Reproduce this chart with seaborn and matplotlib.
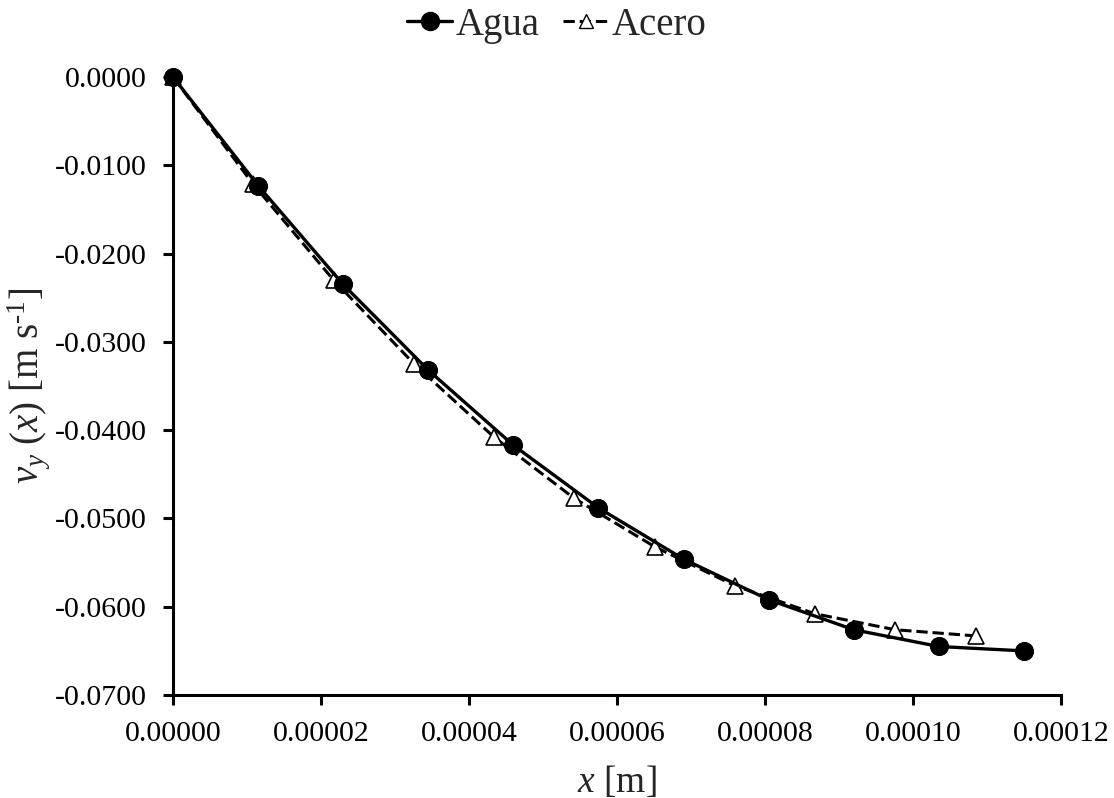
import matplotlib
matplotlib.use("Agg")
import matplotlib.pyplot as plt
import seaborn as sns
import pandas as pd
from matplotlib.ticker import FuncFormatter, MultipleLocator
from matplotlib.lines import Line2D

# Data
x_agua = [0.0, 0.0000115, 0.0000230, 0.0000345, 0.0000460, 0.0000575,
          0.0000690, 0.0000805, 0.0000920, 0.0001035, 0.0001150]
v_agua = [0.0, -0.0123, -0.0235, -0.0332, -0.0417, -0.0488,
          -0.0546, -0.0592, -0.0626, -0.0645, -0.0650]
x_acero = [0.0, 0.0000108, 0.0000217, 0.0000326, 0.0000434, 0.0000542,
           0.0000651, 0.0000759, 0.0000868, 0.0000976, 0.0001085]
v_acero = [0.0, -0.0121, -0.0230, -0.0325, -0.0408, -0.0477,
           -0.0532, -0.0576, -0.0608, -0.0626, -0.0633]
series_names = ["Agua", "Acero"]

sns.set_style("ticks")
plt.rcParams["font.family"] = ["Liberation Serif", "DejaVu Serif"]
plt.rcParams["mathtext.fontset"] = "custom"
plt.rcParams["mathtext.rm"] = "Liberation Serif"
plt.rcParams["mathtext.it"] = "Liberation Serif:italic"
plt.rcParams["axes.unicode_minus"] = False

fig = plt.figure(figsize=(11.14, 7.98), dpi=100)
ax = fig.add_axes([0.1553, 0.129, 0.797, 0.7745])

df_agua = pd.DataFrame({"x": x_agua, "v": v_agua})
df_acero = pd.DataFrame({"x": x_acero, "v": v_acero})

sns.lineplot(data=df_acero, x="x", y="v", ax=ax, color="black", linewidth=2.2,
             linestyle="--", marker="^", markersize=12, markerfacecolor="white",
             markeredgecolor="black", markeredgewidth=1.2, clip_on=False,
             estimator=None, sort=False)
sns.lineplot(data=df_agua, x="x", y="v", ax=ax, color="black", linewidth=2.4,
             marker="o", markersize=13, markerfacecolor="black",
             markeredgecolor="black", clip_on=False,
             estimator=None, sort=False)

ax.set_xlim(0, 0.00012)
ax.set_ylim(-0.07, 0)
ax.xaxis.set_major_locator(MultipleLocator(0.00002))
ax.yaxis.set_major_locator(MultipleLocator(0.01))
ax.xaxis.set_major_formatter(FuncFormatter(lambda v, p: "%.5f" % (abs(v) if abs(v) < 1e-12 else v)))
ax.yaxis.set_major_formatter(FuncFormatter(lambda v, p: "%.4f" % (0.0 if abs(v) < 1e-12 else v)))

sns.despine(ax=ax)
for s in ["left", "bottom"]:
    ax.spines[s].set_linewidth(2.2)
    ax.spines[s].set_color("black")
ax.tick_params(axis="both", direction="out", length=7, width=2.2,
               labelsize=21.5, colors="black")
ax.tick_params(axis="y", pad=12)
ax.tick_params(axis="x", pad=12)

ax.set_xlabel(r"$x$ [m]", fontsize=27, labelpad=12)
ax.set_ylabel(r"$v_y\ (x)$ [m s$^{\text{-1}}$]", fontsize=28)
ax.yaxis.set_label_coords(-0.136, 0.5)

handles = [
    Line2D([], [], color="black", linewidth=2.4, marker="o", markersize=13),
    Line2D([], [], color="black", linewidth=2.2, linestyle="--", marker="^",
           markersize=10, markerfacecolor="white", markeredgecolor="black"),
]
fig.legend(handles, series_names, loc="center", bbox_to_anchor=(0.5, 0.968),
           ncol=2, frameon=False, fontsize=28, handlelength=1.15,
           handletextpad=0.1, columnspacing=0.6)

fig.savefig("out.png", dpi=100)
